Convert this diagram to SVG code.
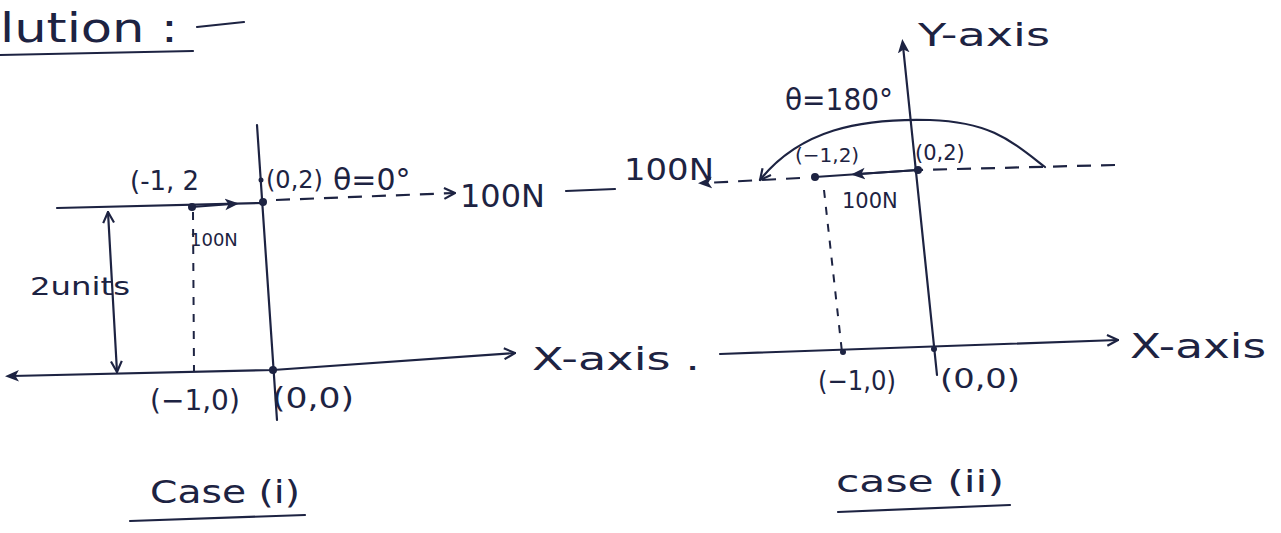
<svg xmlns="http://www.w3.org/2000/svg" width="1281" height="533" viewBox="0 0 1281 533">
<defs>
<style>
.ln{stroke:#1d2342;stroke-width:2.2;fill:none;stroke-linecap:round;stroke-linejoin:round}
.ds{stroke:#1d2342;stroke-width:2.2;fill:none;stroke-dasharray:14 10}
.dv{stroke:#1d2342;stroke-width:2;fill:none;stroke-dasharray:8 9}
.t{fill:#1d2342;font-family:"DejaVu Sans",sans-serif}
.dot{fill:#1d2342}
</style>
<marker id="ah" viewBox="0 0 12 12" refX="11" refY="6" markerWidth="13" markerHeight="13" markerUnits="userSpaceOnUse" orient="auto-start-reverse">
<path d="M1,1 L11,6 L1,11" fill="none" stroke="#1d2342" stroke-width="2"/>
</marker>
<marker id="af" viewBox="0 0 12 12" refX="6" refY="6" markerWidth="14" markerHeight="14" markerUnits="userSpaceOnUse" orient="auto-start-reverse">
<path d="M0,1 L12,6 L0,11 L3,6 Z" fill="#1d2342"/>
</marker>
</defs>

<g id="title">
<text class="t" x="0" y="42" font-size="40" textLength="178" lengthAdjust="spacingAndGlyphs">lution :</text>
<line class="ln" x1="197" y1="27" x2="244" y2="22"/>
<line class="ln" x1="0" y1="55" x2="193" y2="51"/>
</g>

<g id="connectors">
<!-- case i -->
<line class="ln" x1="57" y1="208" x2="263" y2="203"/>
<line class="ln" x1="192" y1="207" x2="232" y2="204" marker-end="url(#af)"/>
<line class="ln" x1="257" y1="125" x2="277" y2="420"/>
<polyline class="ln" points="12,376 273,370 515,353" marker-start="url(#af)" marker-end="url(#ah)"/>
<line class="ds" x1="276" y1="200" x2="455" y2="193" marker-end="url(#ah)"/>
<line class="dv" x1="193" y1="212" x2="194" y2="372"/>
<line class="ln" x1="108" y1="212" x2="117" y2="372" marker-start="url(#ah)" marker-end="url(#ah)"/>
<line class="ln" x1="566" y1="191" x2="615" y2="189"/>
<!-- case ii -->
<line class="ln" x1="720" y1="354" x2="1118" y2="340" marker-end="url(#ah)"/>
<line class="ln" x1="937" y1="375" x2="903" y2="46" marker-end="url(#af)"/>
<line class="ds" x1="1115" y1="165" x2="918" y2="170"/>
<line class="ln" x1="918" y1="170" x2="815" y2="177"/>
<line class="ln" x1="918" y1="170" x2="858" y2="174" marker-end="url(#af)"/>
<line class="ds" x1="800" y1="178" x2="705" y2="183" marker-end="url(#af)"/>
<path class="ln" d="M1045,167 C1010,140 990,122 930,120 C860,118 800,130 760,180" marker-end="url(#ah)"/>
<line class="dv" x1="824" y1="190" x2="842" y2="352"/>
<!-- underlines -->
<line class="ln" x1="130" y1="521" x2="305" y2="515"/>
<line class="ln" x1="838" y1="512" x2="1010" y2="505"/>
</g>

<g id="points">
<circle class="dot" cx="192" cy="207" r="4"/>
<circle class="dot" cx="263" cy="202" r="4"/>
<circle class="dot" cx="261" cy="180" r="2.5"/>
<circle class="dot" cx="273" cy="370" r="4"/>
<circle class="dot" cx="815" cy="177" r="4"/>
<circle class="dot" cx="918" cy="170" r="4"/>
<circle class="dot" cx="843" cy="352" r="3"/>
<circle class="dot" cx="934" cy="349" r="3"/>
</g>

<g id="case1-labels">
<text class="t" x="130" y="190" font-size="26">(-1, 2</text>
<text class="t" x="266" y="188" font-size="24">(0,2)</text>
<text class="t" x="333" y="190" font-size="30">θ=0°</text>
<text class="t" x="460" y="207" font-size="32">100N</text>
<text class="t" x="190" y="246" font-size="18">100N</text>
<text class="t" x="30" y="295" font-size="24" textLength="100" lengthAdjust="spacingAndGlyphs">2units</text>
<text class="t" x="150" y="410" font-size="28">(−1,0)</text>
<text class="t" x="272" y="408" font-size="28" textLength="82" lengthAdjust="spacingAndGlyphs">(0,0)</text>
<text class="t" x="532" y="370" font-size="32" textLength="168" lengthAdjust="spacingAndGlyphs">X-axis .</text>
<text class="t" x="150" y="503" font-size="32" textLength="150" lengthAdjust="spacingAndGlyphs">Case (i)</text>
</g>

<g id="case2-labels">
<text class="t" x="624" y="180" font-size="30" textLength="90" lengthAdjust="spacingAndGlyphs">100N</text>
<text class="t" x="795" y="162" font-size="20">(−1,2)</text>
<text class="t" x="915" y="160" font-size="21">(0,2)</text>
<text class="t" x="842" y="208" font-size="21">100N</text>
<text class="t" x="785" y="110" font-size="30" textLength="108" lengthAdjust="spacingAndGlyphs">θ=180°</text>
<text class="t" x="918" y="46" font-size="32" textLength="132" lengthAdjust="spacingAndGlyphs">Y-axis</text>
<text class="t" x="1130" y="358" font-size="34" textLength="136" lengthAdjust="spacingAndGlyphs">X-axis</text>
<text class="t" x="818" y="390" font-size="26" textLength="78" lengthAdjust="spacingAndGlyphs">(−1,0)</text>
<text class="t" x="940" y="388" font-size="26" textLength="80" lengthAdjust="spacingAndGlyphs">(0,0)</text>
<text class="t" x="836" y="492" font-size="30" textLength="168" lengthAdjust="spacingAndGlyphs">case (ii)</text>
</g>
</svg>
